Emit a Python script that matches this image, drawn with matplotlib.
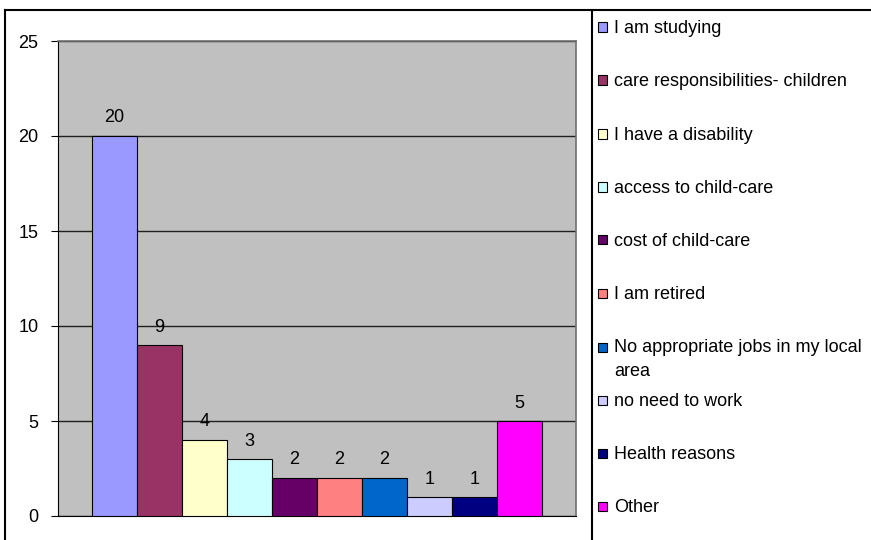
import numpy as np
import matplotlib.pyplot as plt
from matplotlib.lines import Line2D

plt.rcParams['font.family'] = ['Liberation Sans', 'DejaVu Sans']

reasons = ['I am studying', 'care responsibilities- children', 'I have a disability',
           'access to child-care', 'cost of child-care', 'I am retired',
           'No appropriate jobs in my local\narea', 'no need to work',
           'Health reasons', 'Other']
counts = [20, 9, 4, 3, 2, 2, 2, 1, 1, 5]
colors = ['#9999FF', '#993366', '#FFFFCC', '#CCFFFF', '#660066', '#FF8080',
          '#0066CC', '#CCCCFF', '#000080', '#FF00FF']

W, H = 871, 540
FS = 13
fig = plt.figure(figsize=(W / 100, H / 100), dpi=100)

# plot area in pixels: left 58, right 576, top 41, bottom 516
ax = fig.add_axes([58 / W, 1 - 516 / H, (576 - 58) / W, (516 - 41) / H])
ax.set_facecolor('#C0C0C0')

x = np.arange(len(counts))
ax.bar(x, counts, width=1.0, color=colors, edgecolor='black', linewidth=0.8, zorder=3)
for xi, c in zip(x, counts):
    ax.text(xi, c + 0.5, str(c), ha='center', va='bottom', fontsize=FS, zorder=4)

pad = 34 / 45
ax.set_xlim(-0.5 - pad, len(counts) - 0.5 + pad)
ax.set_ylim(0, 25)
ax.set_yticks(range(0, 26, 5))
ax.set_xticks([])
ax.yaxis.grid(True, color='#202020', linewidth=1.0, zorder=1)
ax.tick_params(axis='y', length=5, width=0.8, labelsize=FS, pad=9, direction='out')
for side in ['top', 'right']:
    ax.spines[side].set_color('#707070')
    ax.spines[side].set_linewidth(1.2)
ax.spines['left'].set_color('black')
ax.spines['bottom'].set_color('black')

# chart frame: top and left edges, plus the legend divider
frame = dict(color='black', linewidth=1.5, transform=fig.transFigure)
fig.add_artist(Line2D([5 / W, 870 / W], [1 - 10 / H, 1 - 10 / H], **frame))
fig.add_artist(Line2D([5 / W, 5 / W], [1 - 10 / H, 0], **frame))
fig.add_artist(Line2D([592 / W, 592 / W], [1 - 10 / H, 0], **frame))

# legend entries
row_y = [27, 80, 134, 187, 240, 293, 347, 400, 453, 506]
for name, col, yy in zip(reasons, colors, row_y):
    fig.add_artist(plt.Rectangle((598 / W, 1 - (yy + 4.5) / H), 9 / W, 9 / H,
                                 facecolor=col, edgecolor='black', linewidth=0.8,
                                 transform=fig.transFigure))
    if '\n' in name:
        fig.text(614 / W, 1 - (yy - 8) / H, name, ha='left', va='top',
                 fontsize=FS, linespacing=1.55)
    else:
        fig.text(614 / W, 1 - (yy + 1.5) / H, name, ha='left', va='center', fontsize=FS)

fig.savefig('out.png', dpi=100)
